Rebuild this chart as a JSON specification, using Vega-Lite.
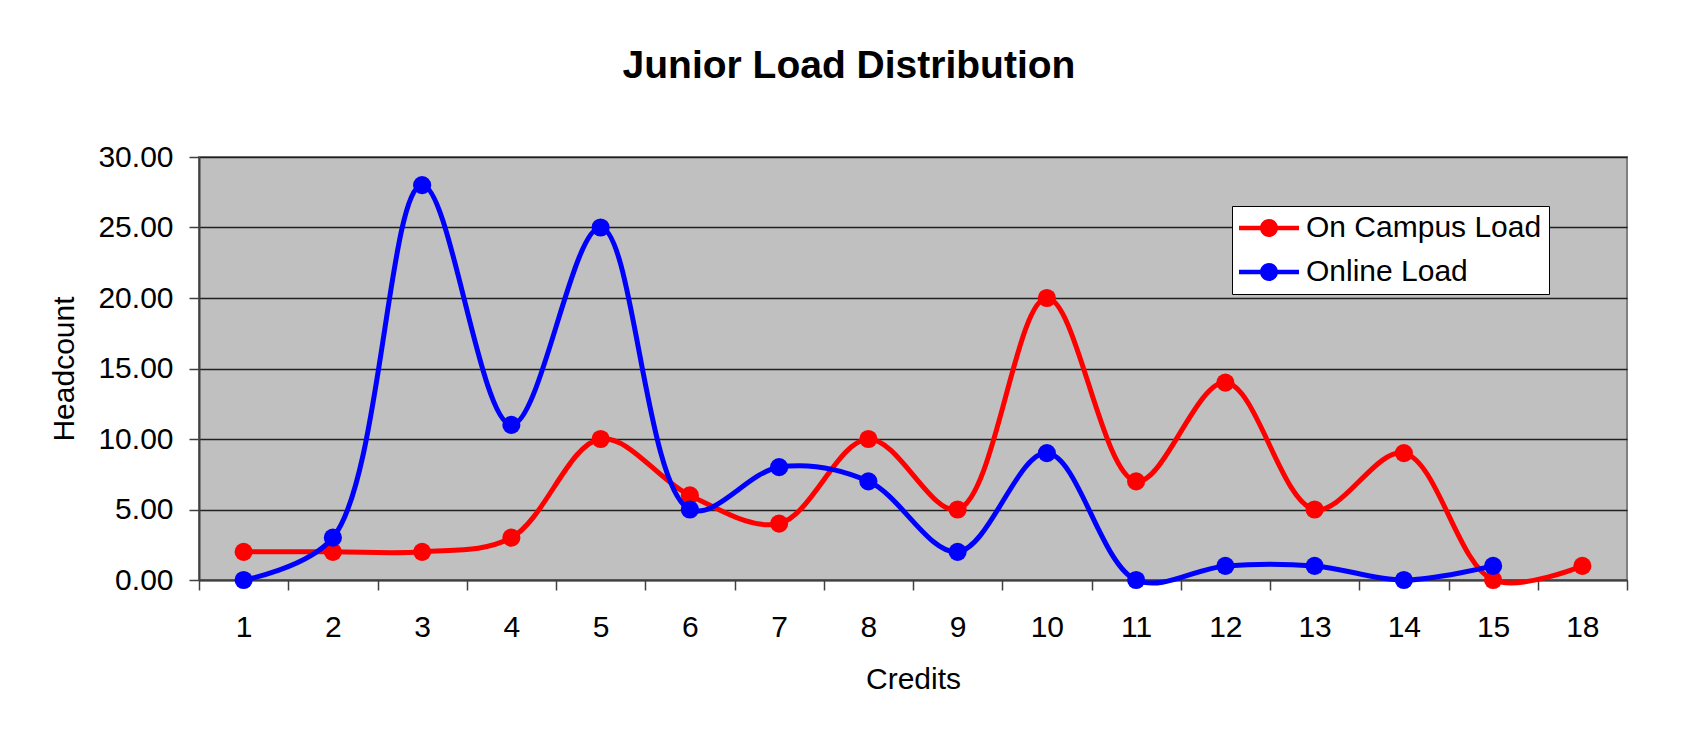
{
  "$schema": "https://vega.github.io/schema/vega-lite/v6.json",
  "width": 1428,
  "height": 423,
  "autosize": {"type": "none"},
  "padding": {"left": 199, "top": 157, "right": 58, "bottom": 153},
  "background": "white",
  "config": {
    "font": "Liberation Sans",
    "view": {"fill": "#C0C0C0", "stroke": "#808080", "strokeWidth": 2}
  },
  "title": {
    "text": "Junior Load Distribution",
    "fontSize": 39,
    "fontWeight": "bold",
    "color": "black",
    "anchor": "middle",
    "dx": -64,
    "offset": 25,
    "baseline": "alphabetic"
  },
  "data": {
    "values": [
      {"credits": "1", "series": "On Campus Load", "headcount": 2},
      {"credits": "2", "series": "On Campus Load", "headcount": 2},
      {"credits": "3", "series": "On Campus Load", "headcount": 2},
      {"credits": "4", "series": "On Campus Load", "headcount": 3},
      {"credits": "5", "series": "On Campus Load", "headcount": 10},
      {"credits": "6", "series": "On Campus Load", "headcount": 6},
      {"credits": "7", "series": "On Campus Load", "headcount": 4},
      {"credits": "8", "series": "On Campus Load", "headcount": 10},
      {"credits": "9", "series": "On Campus Load", "headcount": 5},
      {"credits": "10", "series": "On Campus Load", "headcount": 20},
      {"credits": "11", "series": "On Campus Load", "headcount": 7},
      {"credits": "12", "series": "On Campus Load", "headcount": 14},
      {"credits": "13", "series": "On Campus Load", "headcount": 5},
      {"credits": "14", "series": "On Campus Load", "headcount": 9},
      {"credits": "15", "series": "On Campus Load", "headcount": 0},
      {"credits": "18", "series": "On Campus Load", "headcount": 1},
      {"credits": "1", "series": "Online Load", "headcount": 0},
      {"credits": "2", "series": "Online Load", "headcount": 3},
      {"credits": "3", "series": "Online Load", "headcount": 28},
      {"credits": "4", "series": "Online Load", "headcount": 11},
      {"credits": "5", "series": "Online Load", "headcount": 25},
      {"credits": "6", "series": "Online Load", "headcount": 5},
      {"credits": "7", "series": "Online Load", "headcount": 8},
      {"credits": "8", "series": "Online Load", "headcount": 7},
      {"credits": "9", "series": "Online Load", "headcount": 2},
      {"credits": "10", "series": "Online Load", "headcount": 9},
      {"credits": "11", "series": "Online Load", "headcount": 0},
      {"credits": "12", "series": "Online Load", "headcount": 1},
      {"credits": "13", "series": "Online Load", "headcount": 1},
      {"credits": "14", "series": "Online Load", "headcount": 0},
      {"credits": "15", "series": "Online Load", "headcount": 1}
    ]
  },
  "encoding": {
    "x": {
      "field": "credits",
      "type": "ordinal",
      "sort": ["1","2","3","4","5","6","7","8","9","10","11","12","13","14","15","18"],
      "bandPosition": 0.5,
      "scale": {"type": "band", "paddingInner": 0, "paddingOuter": 0},
      "axis": {
        "title": "Credits",
        "titleFontSize": 30,
        "titleFontWeight": "normal",
        "titleColor": "black",
        "titlePadding": 22,
        "labelFontSize": 30,
        "labelColor": "black",
        "labelAngle": 0,
        "labelPadding": 22,
        "tickBand": "extent",
        "tickSize": 10,
        "tickColor": "#404040",
        "tickWidth": 1.5,
        "domainColor": "#404040",
        "domainWidth": 2,
        "grid": false
      }
    },
    "y": {
      "field": "headcount",
      "type": "quantitative",
      "scale": {"domain": [0, 30], "nice": false, "zero": true},
      "axis": {
        "title": "Headcount",
        "titleFontSize": 30,
        "titleFontWeight": "normal",
        "titleColor": "black",
        "titlePadding": 18,
        "values": [0, 5, 10, 15, 20, 25, 30],
        "format": ".2f",
        "labelFontSize": 30,
        "labelColor": "black",
        "labelPadding": 16,
        "tickSize": 10,
        "tickColor": "#404040",
        "tickWidth": 1.5,
        "domainColor": "#404040",
        "domainWidth": 2,
        "grid": true,
        "gridColor": "#202020",
        "gridWidth": 1.5
      }
    },
    "color": {
      "field": "series",
      "type": "nominal",
      "scale": {"domain": ["On Campus Load", "Online Load"], "range": ["#FF0000", "#0000FF"]},
      "legend": {
        "title": null,
        "orient": "none",
        "legendX": 1033,
        "legendY": 49,
        "fillColor": "white",
        "strokeColor": "black",
        "padding": 7,
        "labelFontSize": 30,
        "labelColor": "black",
        "labelOffset": 37,
        "labelLimit": 0,
        "rowPadding": 14,
        "symbolSize": 900,
        "symbolStrokeWidth": 0,
        "symbolType": "M-1,-0.15H0.42V0.15H-1Z M1.58,-0.15H3V0.15H1.58Z M1.6,0A0.6,0.6,0,1,1,0.4,0A0.6,0.6,0,1,1,1.6,0Z"
      }
    }
  },
  "layer": [
    {
      "transform": [{"filter": "datum.series === 'On Campus Load'"}],
      "mark": {"type": "line", "interpolate": "catmull-rom", "strokeWidth": 5}
    },
    {
      "transform": [{"filter": "datum.series === 'On Campus Load'"}],
      "mark": {"type": "point", "shape": "circle", "filled": true, "opacity": 1, "size": 330}
    },
    {
      "transform": [{"filter": "datum.series === 'Online Load'"}],
      "mark": {"type": "line", "interpolate": "catmull-rom", "strokeWidth": 5}
    },
    {
      "transform": [{"filter": "datum.series === 'Online Load'"}],
      "mark": {"type": "point", "shape": "circle", "filled": true, "opacity": 1, "size": 330}
    }
  ]
}
